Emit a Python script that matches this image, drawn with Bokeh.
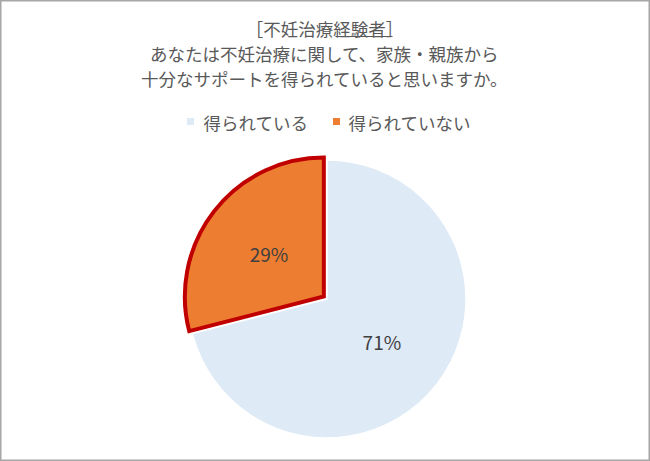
import numpy as np
from bokeh.plotting import figure
from bokeh.models import Range1d
from bokeh.core.properties import value
from bokeh.embed import file_html
from bokeh.resources import INLINE

# ---- data ----
categories = ["得られている", "得られていない"]
shares = [71, 29]
colors = ["#DEEAF6", "#ED7D31"]
outline_colors = ["#FFFFFF", "#C00000"]
title_lines = ["［不妊治療経験者］",
               "あなたは不妊治療に関して、家族・親族から",
               "十分なサポートを得られていると思いますか。"]

W, H = 650, 461
FONT = "Noto Sans CJK JP"
TXT = "#595959"

def px(X):  # reference pixel -> data x
    return X

def py(Y):  # reference pixel -> data y
    return H - Y

p = figure(width=W, height=H, output_backend="svg", toolbar_location=None,
           x_range=Range1d(0, W), y_range=Range1d(0, H),
           min_border=0, outline_line_color="#A6A6A6", outline_line_width=2)
p.axis.visible = False
p.grid.visible = False
p.background_fill_color = "white"
p.border_fill_color = "white"

# ---- title ----
title_y = [28, 53, 78]
p.text(x=[px(324)] * 3, y=[py(v) for v in title_y], text=title_lines,
       text_font=value(FONT), text_font_size="17.5px", text_color=TXT,
       text_align="center", text_baseline="middle")
# underline of 経験者
p.segment(x0=[px(335)], y0=[py(36)], x1=[px(392)], y1=[py(36)],
          line_color=TXT, line_width=1)

# ---- legend ----
leg_sq_x = [190, 336]
leg_txt_x = [203, 348]
p.scatter(x=[px(v) for v in leg_sq_x], y=[py(121)] * 2, marker="square",
          size=7, fill_color=colors, line_color=None)
p.text(x=[px(v) for v in leg_txt_x], y=[py(122)] * 2, text=categories,
       text_font=value(FONT), text_font_size="17.5px", text_color=TXT,
       text_align="left", text_baseline="middle")

# ---- pie ----
cx, cy, R = px(326.5), py(298.5), 139
total = sum(shares)
frac = np.array(shares) / total
# orange (second) slice starts at 12 o'clock going anticlockwise
start_o = np.pi / 2
end_o = start_o + frac[1] * 2 * np.pi
start_b = end_o
end_b = start_o + 2 * np.pi
explode = 4
mid_o = (start_o + end_o) / 2
ox, oy = cx + explode * np.cos(mid_o), cy + explode * np.sin(mid_o)

p.wedge(x=[cx], y=[cy], radius=R, start_angle=[start_b], end_angle=[end_b],
        fill_color=colors[0], line_color=outline_colors[0], line_width=1.5)
p.wedge(x=[ox], y=[oy], radius=R, start_angle=[start_o], end_angle=[end_o],
        fill_color=colors[1], line_color=outline_colors[1], line_width=4,
        line_join="miter")

# data labels
mid_b = (start_b + end_b) / 2
lab_r = 0.5 * R
lx = [cx + lab_r * np.cos(mid_b), ox + lab_r * np.cos(mid_o)]
ly = [cy + lab_r * np.sin(mid_b), oy + lab_r * np.sin(mid_o)]
p.text(x=lx, y=ly, text=[f"{s}%" for s in shares],
       text_font=value(FONT), text_font_size="19px", text_color="#404040",
       text_align="center", text_baseline="middle")

open("out.html", "w").write(file_html(p, INLINE))
